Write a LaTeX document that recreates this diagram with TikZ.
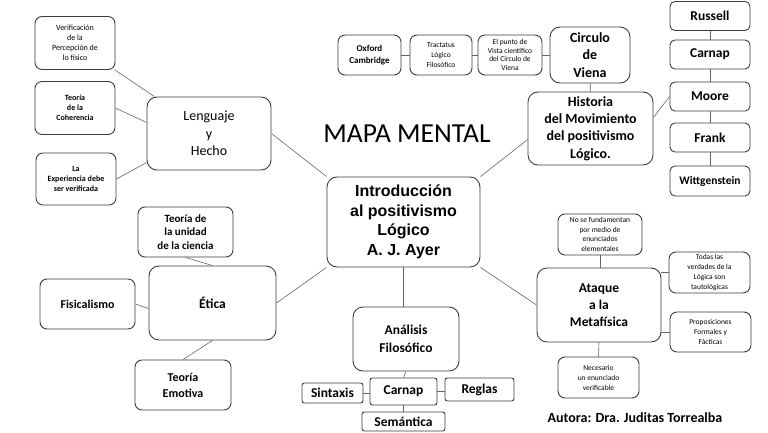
\documentclass[tikz,border=0pt]{standalone}
\usepackage{fontspec}
\setmainfont{Carlito}
\newfontfamily\arialfont{Liberation Sans}
\usepackage{tikz}
\definecolor{BoxGray}{RGB}{60,60,60}
\definecolor{LineGray}{RGB}{100,100,100}
\newcommand{\fsz}[2]{\fontsize{#1}{#2}\selectfont}

\begin{document}
\begin{tikzpicture}[x=1pt, y=-1pt,
	box/.style={draw=BoxGray, line width=0.9pt, rounded corners=10pt, align=center, inner sep=0pt},
	smallbox/.style={box, rounded corners=7pt},
	namebox/.style={box, rounded corners=5pt, font=\bfseries\fsz{13.5}{16}},
	tinybox/.style={box, rounded corners=2.5pt, font=\bfseries\fsz{13.5}{16}},
	link/.style={draw=LineGray, line width=0.6pt}]
	\useasboundingbox (0,0) rectangle (768,433);
	% titulo y autora
	\node[font=\fsz{27.5}{30}] (titulo) at (407,134) {MAPA MENTAL};
	\node[font=\bfseries\fsz{14}{16}] (autora) at (635,417.5) {Autora: Dra. Juditas Torrealba};
	% nodo central
	\node[box, minimum width=153pt, minimum height=90pt, font=\arialfont\bfseries\fsz{16}{19.5}] (centro) at (403.5,222)
		{Introducción\\al positivismo\\Lógico\\A. J. Ayer};
	% lenguaje y hecho
	\node[box, minimum width=124pt, minimum height=73pt, font=\fsz{14}{17.5}] (lenguaje) at (209,133.5) {Lenguaje\\y\\Hecho};
	\node[smallbox, minimum width=80pt, minimum height=53pt, font=\fsz{8}{10}] (verif) at (75,43) {Verificación\\de la\\Percepción de\\lo físico};
	\node[smallbox, minimum width=80pt, minimum height=53pt, font=\bfseries\fsz{8}{10}] (coher) at (75,108) {Teoría\\de la\\Coherencia};
	\node[smallbox, minimum width=80pt, minimum height=52pt, font=\bfseries\fsz{8}{10}] (exper) at (76,179) {La\\Experiencia debe\\ser verificada};
	% historia
	\node[smallbox, minimum width=63pt, minimum height=40pt, font=\bfseries\fsz{9}{12.5}] (oxford) at (369.5,55) {Oxford\\Cambridge};
	\node[smallbox, minimum width=62pt, minimum height=40pt, font=\fsz{7.5}{10}] (tractatus) at (441,55) {Tractatus\\Lógico\\Filosófico};
	\node[smallbox, minimum width=64pt, minimum height=40pt, font=\fsz{7.5}{8.7}] (punto) at (510,55) {El punto de\\Vista científico\\del Circulo de\\Viena};
	\node[box, minimum width=80pt, minimum height=56pt, font=\bfseries\fsz{14}{17.5}] (circulo) at (590,55) {Circulo\\de\\Viena};
	\node[box, minimum width=125pt, minimum height=73pt, font=\bfseries\fsz{14}{17.3}] (historia) at (590.5,128.5)
		{Historia\\del Movimiento\\del positivismo\\Lógico.};
	\foreach \name/\txt/\y in {russell/Russell/16, carnapH/Carnap/54.5, moore/Moore/96.5, frank/Frank/137.5}
		{\node[namebox, minimum width=80pt, minimum height=29pt] (\name) at (710,\y) {\txt};}
	\node[namebox, minimum width=80pt, minimum height=30pt, font=\bfseries\fsz{11.5}{14}] (witt) at (710,181) {Wittgenstein};
	% ataque a la metafisica
	\node[box, minimum width=124pt, minimum height=74pt, font=\bfseries\fsz{13.5}{17}] (ataque) at (599,305) {Ataque\\a la\\Metafísica};
	\node[smallbox, minimum width=84pt, minimum height=41pt, font=\fsz{7.5}{9.7}] (nose) at (600,234.5) {No se fundamentan\\por medio de\\enunciados\\elementales};
	\node[smallbox, minimum width=81pt, minimum height=41pt, font=\fsz{7.5}{9.7}] (todas) at (709.5,272.5) {Todas las\\verdades de la\\Lógica son\\tautológicas};
	\node[smallbox, minimum width=81pt, minimum height=40pt, font=\fsz{7.5}{9.7}] (propos) at (710.5,332) {Proposiciones\\Formales y\\Fácticas};
	\node[smallbox, minimum width=81pt, minimum height=41pt, font=\fsz{7.5}{10}] (necesario) at (598.5,377.5) {Necesario\\un enunciado\\verificable};
	% etica
	\node[box, minimum width=127pt, minimum height=74pt, font=\bfseries\fsz{13.5}{16}] (etica) at (212.5,303) {Ética};
	\node[smallbox, minimum width=95pt, minimum height=50pt, font=\bfseries\fsz{11}{13.5}] (unidad) at (185.5,232) {Teoría de\\la unidad\\de la ciencia};
	\node[smallbox, minimum width=95pt, minimum height=50pt, font=\bfseries\fsz{12}{15}] (fisic) at (87.5,304) {Fisicalismo};
	\node[smallbox, minimum width=96pt, minimum height=50pt, font=\bfseries\fsz{12}{16}] (emotiva) at (183,385) {Teoría\\Emotiva};
	% analisis filosofico
	\node[box, minimum width=106pt, minimum height=64pt, font=\bfseries\fsz{13.5}{18}] (analisis) at (406,339) {Análisis\\Filosófico};
	\node[tinybox, minimum width=67pt, minimum height=27pt] (carnapA) at (403.5,391.5) {Carnap};
	\node[tinybox, minimum width=61pt, minimum height=20pt] (sintaxis) at (332.5,393) {Sintaxis};
	\node[tinybox, minimum width=69pt, minimum height=23pt] (reglas) at (479.5,389.5) {Reglas};
	\node[tinybox, minimum width=83pt, minimum height=19pt] (semantica) at (403.5,421.5) {Semántica};
	% conexiones
	\draw[link] (verif) -- (lenguaje);
	\draw[link] (coher.east) -- (lenguaje.170);
	\draw[link] (exper.east) -- (lenguaje.205);
	\draw[link] (lenguaje.east) -- (centro.north west);
	\draw[link] (oxford) -- (tractatus);
	\draw[link] (tractatus) -- (punto);
	\draw[link] (punto) -- (circulo);
	\draw[link] (circulo) -- (historia);
	\draw[link] (centro.north east) -- (historia.190);
	\draw[link] (historia.10) -- (moore.west);
	\foreach \a/\b in {russell/carnapH, carnapH/moore, moore/frank, frank/witt}
		{\draw[link] (\a) -- (\b);}
	\draw[link] (centro.south east) -- (ataque.west);
	\draw[link] (nose.south) -- (nose.south |- ataque.north);
	\draw[link] (todas.west) -- (todas.west -| ataque.east);
	\draw[link] (propos.west) -- (propos.west -| ataque.east);
	\draw[link] (ataque.south) -- (necesario.north);
	\draw[link] (centro.south west) -- (etica.east);
	\draw[link] (unidad.south) -- (etica.north);
	\draw[link] (fisic.east) -- (etica.185);
	\draw[link] (emotiva.north) -- (etica.south);
	\draw[link] (centro.south) -- (centro.south |- analisis.north);
	\draw[link] (analisis.south) -- (carnapA.north);
	\draw[link] (sintaxis.east) -- (sintaxis.east -| carnapA.west);
	\draw[link] (carnapA.east) -- (carnapA.east -| reglas.west);
	\draw[link] (carnapA.south) -- (semantica.north);
\end{tikzpicture}
\end{document}
